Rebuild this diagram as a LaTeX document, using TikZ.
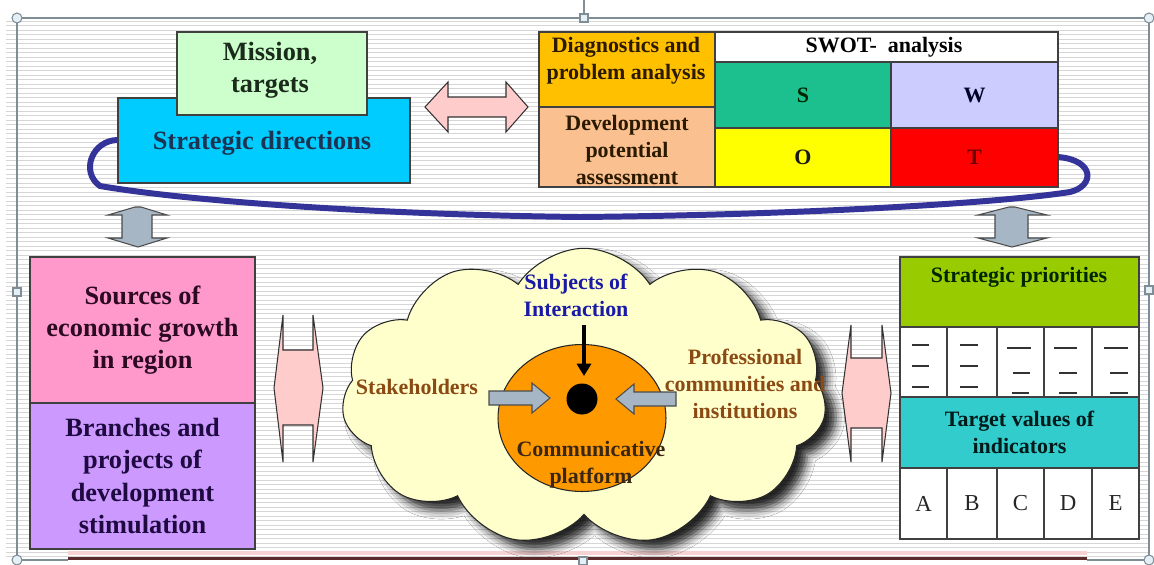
\documentclass[tikz,border=0pt]{standalone}
\usepackage{fontspec}
\setmainfont{Liberation Serif}
\usetikzlibrary{shapes.geometric,shapes.symbols,arrows.meta,shadows.blur}
\definecolor{missionC}{HTML}{CCFFCC}
\definecolor{stratC}{HTML}{00CCFF}
\definecolor{diagC}{HTML}{FFC000}
\definecolor{devC}{HTML}{FAC090}
\definecolor{sC}{HTML}{1CC08E}
\definecolor{wC}{HTML}{CCCCFF}
\definecolor{oC}{HTML}{FFFF00}
\definecolor{tC}{HTML}{FF0000}
\definecolor{srcC}{HTML}{FF99CC}
\definecolor{brC}{HTML}{CC99FF}
\definecolor{prioC}{HTML}{99CC00}
\definecolor{targC}{HTML}{33CCCC}
\definecolor{cloudC}{HTML}{FFFFCC}
\definecolor{platC}{HTML}{FF9900}
\definecolor{pinkA}{HTML}{FFCCCC}
\definecolor{grayA}{HTML}{A7B6C4}
\definecolor{loopC}{HTML}{333399}
\definecolor{brownT}{HTML}{8B4A14}
\definecolor{blueT}{HTML}{1A1AA6}
\definecolor{stripeC}{HTML}{D6D6D6}
\definecolor{frameC}{HTML}{7F8D96}
\definecolor{handleF}{HTML}{E4F0F6}
\definecolor{bottomC}{HTML}{5C2A2A}
\definecolor{bandC}{HTML}{F6D2D2}
\definecolor{srcT}{HTML}{2B0A22}
\definecolor{brT}{HTML}{1E0A40}
\definecolor{stratT}{HTML}{1C3352}
\definecolor{missionT}{HTML}{1B2B1B}
\definecolor{diagT}{HTML}{2B1A00}
\tikzset{
  boxx/.style={draw=black!75, line width=0.7pt, inner sep=0pt, align=center},
  tbig/.style={font=\fontsize{15}{18.3}\selectfont\bfseries, align=center, inner sep=0pt},
  tmid/.style={font=\fontsize{12.5}{15.3}\selectfont\bfseries, align=center, inner sep=0pt},
  tlet/.style={font=\fontsize{13}{15}\selectfont, text=black!85},
  pinkarrow/.style={fill=pinkA, draw=black!80, line width=0.6pt},
  grayarrow/.style={fill=grayA, draw=black!70, line width=0.6pt},
  handlebox/.style={fill=handleF, draw=frameC, line width=0.6pt},
  dashline/.style={draw=black!80, line width=0.8pt},
  stripe/.style={draw=stripeC, line width=0.5pt}
}
\begin{document}
\begin{tikzpicture}[x=0.02cm,y=-0.02cm]
\useasboundingbox (0,0) rectangle (1154,565);
\fill[white] (0,0) rectangle (1154,565);
% background stripes
\foreach \k in {0,...,119} \draw[stripe] (6,{21+4.5*\k}) -- (1149,{21+4.5*\k});
% frame
\draw[frameC, line width=0.9pt] (17,18) -- (1149,18);
\draw[frameC, line width=0.9pt] (17,18) -- (17,560);
\draw[frameC, line width=0.9pt] (1149,18) -- (1149,560);
\draw[frameC, line width=0.9pt] (17,560) -- (68,560);
\draw[frameC, line width=0.9pt] (1087,560) -- (1149,560);
\draw[bandC, line width=1.8pt] (68,553) -- (1087,553);
\draw[bottomC, line width=1.2pt] (68,558.5) -- (1087,558.5);
\draw[frameC, line width=0.6pt] (584,0) -- (584,14);
% blue loop
\draw[loopC, line width=3.4pt, line cap=round]
  (118,140) .. controls (92,140) and (80,172) .. (100,186)
  .. controls (200,203) and (400,215) .. (580,217)
  .. controls (800,215) and (1000,203) .. (1070,192)
  .. controls (1095,186) and (1095,160) .. (1058,157);
% top left boxes
\node[boxx, fill=stratC, minimum width=5.84cm, minimum height=1.70cm] (strat) at (264,140.5) {};
\node[tbig, text=stratT] (strattext) at (262,143) {Strategic directions};
\node[boxx, fill=missionC, minimum width=3.80cm, minimum height=1.66cm] (mission) at (272,73.5) {};
\node[tbig, text=missionT] (missiontext) at (270,70) {Mission,\\targets};
% top pink arrow
\path[pinkarrow] (425,107) -- (448,82) -- (448,97) -- (506,97) -- (506,82) -- (528,107)
  -- (506,132) -- (506,117) -- (448,117) -- (448,132) -- cycle;
% table top right
\node[boxx, fill=diagC, minimum width=3.52cm, minimum height=1.50cm] (diag) at (627,69.5) {};
\node[tmid, text=diagT] (diagtext) at (626,61) {Diagnostics and\\problem analysis};
\node[boxx, fill=devC, minimum width=3.52cm, minimum height=1.60cm] (dev) at (627,147) {};
\node[tmid, text=diagT] (devtext) at (627,150) {Development\\potential\\assessment};
\node[boxx, fill=white, minimum width=6.86cm, minimum height=0.60cm] (swot) at (886.5,47) {};
\node[tmid, text=black] (swottext) at (884,47) {SWOT-\ \ analysis};
\node[boxx, fill=sC, minimum width=3.52cm, minimum height=1.32cm, tmid, text=black!85!green] (S) at (803,95) {S};
\node[boxx, fill=wC, minimum width=3.34cm, minimum height=1.32cm, tmid, text=black!85!blue] (W) at (974.5,95) {W};
\node[boxx, fill=oC, minimum width=3.52cm, minimum height=1.18cm, tmid, text=black!90] (O) at (803,157.5) {O};
\node[boxx, fill=tC, minimum width=3.34cm, minimum height=1.18cm, tmid, text=red!40!black] (T) at (974.5,157.5) {T};
% gray vertical arrows
\path[grayarrow] (135,207) -- (141,207) -- (167,215) -- (152,215) -- (152,238) -- (167,238)
  -- (138,247) -- (108,238) -- (122,238) -- (122,215) -- (108,215) -- cycle;
\path[grayarrow] (1009,207) -- (1015,207) -- (1047,215) -- (1028,215) -- (1028,238) -- (1047,238)
  -- (1012,247) -- (978,238) -- (995,238) -- (995,215) -- (978,215) -- cycle;
% left boxes
\node[boxx, fill=srcC, minimum width=4.50cm, minimum height=2.92cm, tbig, text=srcT] (src) at (142.5,330) {Sources of\\economic growth\\in region};
\node[boxx, fill=brC, minimum width=4.50cm, minimum height=2.92cm, tbig, text=brT] (br) at (142.5,476) {Branches and\\projects of\\development\\stimulation};
% middle pink arrows
\path[pinkarrow] (274,388) -- (283,315) -- (283,350) -- (313,350) -- (313,315) -- (323,388)
  -- (313,462) -- (313,425) -- (283,425) -- (283,462) -- cycle;
\path[pinkarrow] (842,393) -- (851,325) -- (851,358) -- (882,358) -- (882,325) -- (891,393)
  -- (882,462) -- (882,428) -- (851,428) -- (851,462) -- cycle;
% cloud
\node[cloud, cloud puffs=11, cloud puff arc=115, aspect=1.6, minimum width=9.7cm, minimum height=5.95cm,
  fill=cloudC, draw=black!85, line width=0.6pt,
  blur shadow={shadow xshift=6pt, shadow yshift=-5pt, shadow blur radius=5pt, shadow opacity=85}] (cloud) at (584,397) {};
\node[ellipse, minimum width=3.36cm, minimum height=2.94cm, fill=platC, draw=black!85, line width=0.6pt] (plat) at (582,418) {};
\node[circle, fill=black, minimum size=0.62cm, inner sep=0pt] (dot) at (582,399) {};
\node[tmid, text=blueT] (subj) at (576,295) {Subjects of\\Interaction};
\node[tmid, text=brownT] (stake) at (417,387) {Stakeholders};
\node[tmid, text=brownT] (prof) at (745,384) {Professional\\communities and\\institutions};
\node[tmid, text=black!70!brown] (comm) at (591,465) {Communicative\\platform};
\coordinate (downstart) at (584,325);
\coordinate (downend) at (584,376);
\draw[line width=2.3pt, -{Triangle[length=7pt,width=8pt]}] (downstart) -- (downend);
\path[grayarrow] (489,391) -- (532,391) -- (532,383) -- (550,398) -- (532,413) -- (532,405) -- (489,405) -- cycle;
\path[grayarrow] (676,392) -- (634,392) -- (634,384) -- (616,399) -- (634,414) -- (634,406) -- (676,406) -- cycle;
% right table
\node[boxx, fill=prioC, minimum width=4.78cm, minimum height=1.40cm] (prio) at (1019.5,292) {};
\node[tmid, text=black!85!green] (priotext) at (1019,277) {Strategic priorities};
\node[boxx, fill=white, minimum width=0.94cm, minimum height=1.40cm] (d1) at (923.5,362) {};
\node[boxx, fill=white, minimum width=1.00cm, minimum height=1.40cm] (d2) at (972,362) {};
\node[boxx, fill=white, minimum width=0.94cm, minimum height=1.40cm] (d3) at (1020.5,362) {};
\node[boxx, fill=white, minimum width=0.96cm, minimum height=1.40cm] (d4) at (1068,362) {};
\node[boxx, fill=white, minimum width=0.94cm, minimum height=1.40cm] (d5) at (1115.5,362) {};
\foreach \yy in {345,366,387} {
  \draw[dashline] (912,\yy) -- (929,\yy);
  \draw[dashline] (960,\yy) -- (978,\yy);
}
\draw[dashline] (1007,348) -- (1031,348);
\draw[dashline] (1013,373) -- (1030,373);
\draw[dashline] (1012,393) -- (1029,393);
\draw[dashline] (1054,348) -- (1077,348);
\draw[dashline] (1059,373) -- (1077,373);
\draw[dashline] (1059,393) -- (1077,393);
\draw[dashline] (1104,348) -- (1128,348);
\draw[dashline] (1110,373) -- (1128,373);
\draw[dashline] (1110,393) -- (1128,393);
\node[boxx, fill=targC, minimum width=4.78cm, minimum height=1.42cm, tmid, text=black!80!teal] (targ) at (1019.5,432.5) {Target values of\\indicators};
\node[boxx, fill=white, minimum width=0.94cm, minimum height=1.42cm, tlet] (la) at (923.5,503.5) {A};
\node[boxx, fill=white, minimum width=1.00cm, minimum height=1.42cm, tlet] (lb) at (972,503.5) {B};
\node[boxx, fill=white, minimum width=0.94cm, minimum height=1.42cm, tlet] (lc) at (1020.5,503.5) {C};
\node[boxx, fill=white, minimum width=0.96cm, minimum height=1.42cm, tlet] (ld) at (1068,503.5) {D};
\node[boxx, fill=white, minimum width=0.94cm, minimum height=1.42cm, tlet] (le) at (1115.5,503.5) {E};
% handles
\node[circle, handlebox, minimum size=0.2cm, inner sep=0pt] (h1) at (17,18) {};
\node[circle, handlebox, minimum size=0.2cm, inner sep=0pt] (h2) at (1149,18) {};
\node[circle, handlebox, minimum size=0.2cm, inner sep=0pt] (h3) at (17,560) {};
\node[circle, handlebox, minimum size=0.2cm, inner sep=0pt] (h4) at (1149,560) {};
\node[rectangle, handlebox, minimum size=0.16cm, inner sep=0pt] (h5) at (584,18) {};
\node[rectangle, handlebox, minimum size=0.16cm, inner sep=0pt] (h6) at (17,292) {};
\node[rectangle, handlebox, minimum size=0.16cm, inner sep=0pt] (h7) at (1149,290) {};
\node[rectangle, handlebox, minimum size=0.16cm, inner sep=0pt] (h8) at (583,561) {};
\end{tikzpicture}
\end{document}
